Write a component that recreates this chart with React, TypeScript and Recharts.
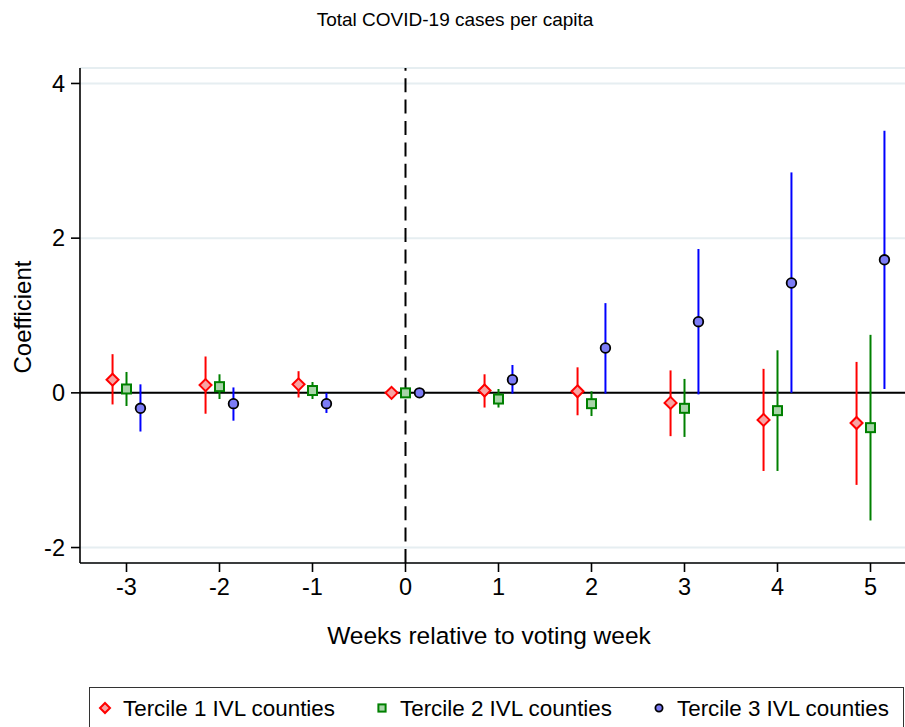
import {
  ScatterChart,
  Scatter,
  XAxis,
  YAxis,
  CartesianGrid,
  ReferenceLine,
  ErrorBar,
} from 'recharts'

const weeks = [-3, -2, -1, 0, 1, 2, 3, 4, 5]

// Tercile 1 IVL counties
const t1Coef = [0.17, 0.1, 0.11, 0, 0.03, 0.02, -0.13, -0.35, -0.39]
const t1Lo = [-0.15, -0.27, -0.06, 0, -0.19, -0.29, -0.56, -1.01, -1.19]
const t1Hi = [0.5, 0.47, 0.28, 0, 0.24, 0.33, 0.29, 0.31, 0.4]

// Tercile 2 IVL counties
const t2Coef = [0.05, 0.08, 0.03, 0, -0.08, -0.14, -0.2, -0.23, -0.45]
const t2Lo = [-0.17, -0.08, -0.08, 0, -0.19, -0.3, -0.57, -1.01, -1.65]
const t2Hi = [0.27, 0.24, 0.14, 0, 0.05, 0.02, 0.18, 0.55, 0.75]

// Tercile 3 IVL counties
const t3Coef = [-0.2, -0.14, -0.14, 0, 0.17, 0.58, 0.92, 1.42, 1.72]
const t3Lo = [-0.5, -0.36, -0.26, 0, -0.01, -0.01, -0.02, 0.0, 0.05]
const t3Hi = [0.11, 0.07, 0.0, 0, 0.36, 1.16, 1.86, 2.85, 3.39]

const xTicks = [-3, -2, -1, 0, 1, 2, 3, 4, 5]
const yTicks = [-2, 0, 2, 4]

const FONT = '"Liberation Sans", Arial, Helvetica, sans-serif'

const build = (coef: number[], lo: number[], hi: number[], shift: number) =>
  weeks.map((w, i) => ({
    x: w + shift,
    y: coef[i],
    err: [coef[i] - lo[i], hi[i] - coef[i]],
  }))

const t1Data = build(t1Coef, t1Lo, t1Hi, -0.15)
const t2Data = build(t2Coef, t2Lo, t2Hi, 0)
const t3Data = build(t3Coef, t3Lo, t3Hi, 0.15)

const RED = '#ff0000'
const GREEN = '#008000'
const BLUE = '#0000ff'

const Diamond = ({ cx, cy, r = 6 }: any) => (
  <polygon
    points={`${cx},${cy - r} ${cx + r},${cy} ${cx},${cy + r} ${cx - r},${cy}`}
    fill="#f8a3a3"
    stroke={RED}
    strokeWidth={2}
  />
)

const Square = ({ cx, cy, h = 4.5 }: any) => (
  <rect x={cx - h} y={cy - h} width={h * 2} height={h * 2} fill="#a9d4a9" stroke={GREEN} strokeWidth={2} />
)

const Circle = ({ cx, cy, r = 4.8 }: any) => (
  <circle cx={cx} cy={cy} r={r} fill="#7c7cf6" stroke="#000" strokeWidth={1.8} />
)

const tickStyle = { fontSize: 23.5, fill: '#000', fontFamily: FONT }

export default function App() {
  return (
    <div style={{ position: 'absolute', left: 0, top: 0, width: 905, height: 727, overflow: 'hidden', background: '#fff' }}>
      <ScatterChart width={920} height={727} margin={{ top: 68, right: 3, bottom: 124, left: 0 }}>
        <CartesianGrid vertical={false} stroke="#e6eef1" strokeWidth={2} />
        <XAxis
          type="number"
          dataKey="x"
          domain={[-3.5, 5.5]}
          ticks={xTicks}
          allowDataOverflow
          height={40}
          tick={tickStyle}
          tickSize={9}
          tickMargin={6}
          axisLine={{ stroke: '#000', strokeWidth: 1.6 }}
          tickLine={{ stroke: '#000', strokeWidth: 1.6 }}
        />
        <YAxis
          type="number"
          dataKey="y"
          domain={[-2.2, 4.2]}
          ticks={yTicks}
          allowDataOverflow
          width={80}
          tick={tickStyle}
          tickSize={9}
          tickMargin={6}
          axisLine={{ stroke: '#000', strokeWidth: 1.6 }}
          tickLine={{ stroke: '#000', strokeWidth: 1.6 }}
        />
        <ReferenceLine y={0} stroke="#000" strokeWidth={2} />
        <ReferenceLine x={0} stroke="#000" strokeWidth={2} strokeDasharray="14 7.4" />
        <Scatter data={t1Data} shape={<Diamond />} isAnimationActive={false}>
          <ErrorBar dataKey="err" direction="y" width={0} stroke={RED} strokeWidth={2} isAnimationActive={false} />
        </Scatter>
        <Scatter data={t2Data} shape={<Square />} isAnimationActive={false}>
          <ErrorBar dataKey="err" direction="y" width={0} stroke={GREEN} strokeWidth={2} isAnimationActive={false} />
        </Scatter>
        <Scatter data={t3Data} shape={<Circle />} isAnimationActive={false}>
          <ErrorBar dataKey="err" direction="y" width={0} stroke={BLUE} strokeWidth={2} isAnimationActive={false} />
        </Scatter>
      </ScatterChart>

      <svg
        width={905}
        height={727}
        style={{ position: 'absolute', left: 0, top: 0, pointerEvents: 'none' }}
        fontFamily={FONT}
      >
        <text x={455} y={26} fontSize={19} textAnchor="middle" fill="#000">
          Total COVID-19 cases per capita
        </text>
        <text x={489} y={644} fontSize={24.5} textAnchor="middle" fill="#000">
          Weeks relative to voting week
        </text>
        <text x={31} y={317} fontSize={24} textAnchor="middle" fill="#000" transform="rotate(-90 31 317)">
          Coefficient
        </text>

        <rect x={89.5} y={687.5} width={814} height={60} fill="#fff" stroke="#333" strokeWidth={1} />
        <Diamond cx={105} cy={708} r={5} />
        <text x={123} y={715.5} fontSize={22.4} fill="#000">
          Tercile 1 IVL counties
        </text>
        <Square cx={382} cy={708} h={3.6} />
        <text x={400} y={715.5} fontSize={22.4} fill="#000">
          Tercile 2 IVL counties
        </text>
        <Circle cx={659} cy={708} r={3.6} />
        <text x={677} y={715.5} fontSize={22.4} fill="#000">
          Tercile 3 IVL counties
        </text>
      </svg>
    </div>
  )
}
